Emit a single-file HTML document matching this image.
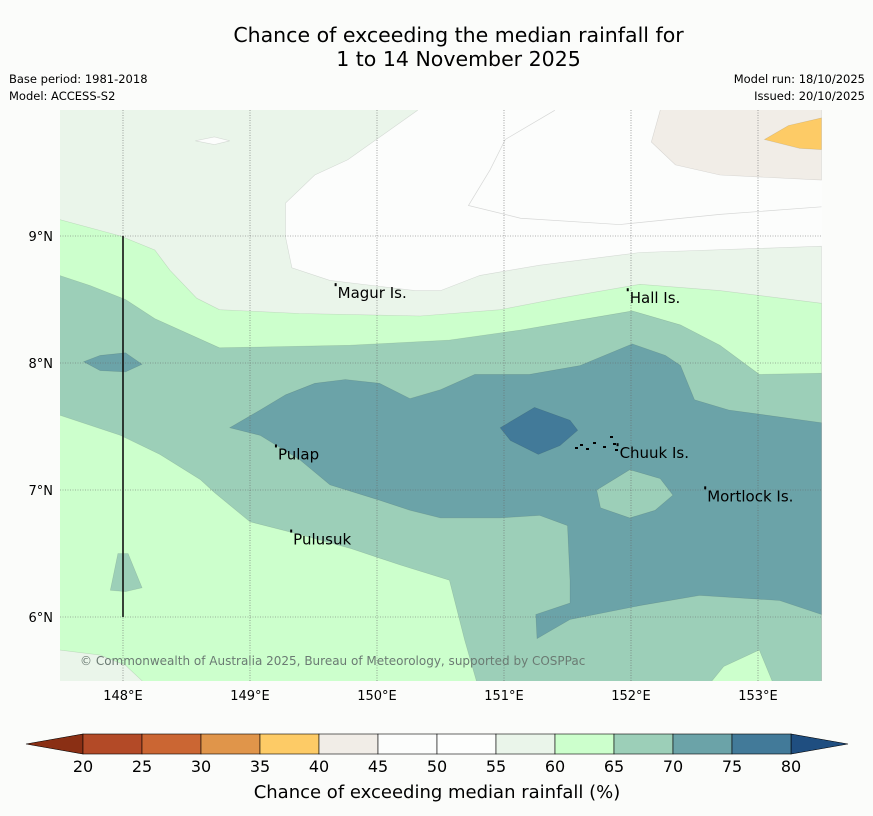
<!DOCTYPE html>
<html><head><meta charset="utf-8"><style>
body{margin:0;background:#fbfcfa;font-family:"DejaVu Sans","Liberation Sans",sans-serif;}
#wrap{position:relative;width:873px;height:816px;overflow:hidden;background:#fbfcfa;}
.t{position:absolute;white-space:nowrap;color:#000;}
</style></head><body>
<div id="wrap">
<div class="t" style="left:0;width:917px;top:23px;text-align:center;font-size:20.5px;line-height:24px;">Chance of exceeding the median rainfall for<br>1 to 14 November 2025</div>
<div class="t" style="left:9px;top:72px;font-size:11.5px;">Base period: 1981-2018</div>
<div class="t" style="left:9px;top:89px;font-size:11.5px;">Model: ACCESS-S2</div>
<div class="t" style="right:8px;top:72px;font-size:11.5px;text-align:right;">Model run: 18/10/2025</div>
<div class="t" style="right:8px;top:89px;font-size:11.5px;text-align:right;">Issued: 20/10/2025</div>
<svg id="svg" width="873" height="816" style="position:absolute;left:0;top:0">
<defs><clipPath id="mc"><rect x="60" y="110" width="762" height="571"/></clipPath></defs>
<rect x="60" y="110" width="762" height="571" fill="#fcfdfc"/>
<g id="fills" clip-path="url(#mc)"></g>
<g id="grid"></g>
<g id="labels"></g>
<g id="cbar"></g>
</svg>
</div>
<script>
const NS="http://www.w3.org/2000/svg";
const FONT="DejaVu Sans, Liberation Sans, sans-serif";
const lonMin=147.5, lonMax=153.5, latMin=5.5, latMax=9.99;
const lonTicks=[148,149,150,151,152,153];
const latTicks=[6,7,8,9];
const light55=[[147.5,10.1],[150.32,10.1],[150.32,9.99],[149.77,9.60],[149.51,9.48],[149.28,9.26],[149.28,8.99],[149.33,8.75],[149.63,8.65],[150.30,8.57],[150.50,8.57],[150.81,8.69],[151.28,8.77],[152.07,8.87],[153.5,8.92],[153.5,5.4],[147.5,5.4]];
const whiteBlob=[[148.57,9.75],[148.72,9.78],[148.84,9.75],[148.72,9.72]];
const green60=[[147.5,9.13],[147.98,9.0],[148.25,8.89],[148.37,8.73],[148.58,8.51],[148.76,8.42],[149.39,8.39],[150.34,8.37],[150.97,8.42],[151.44,8.51],[152.07,8.62],[152.70,8.57],[153.5,8.47],[153.5,5.4],[147.5,5.4]];
const teal65=[[147.5,8.69],[147.74,8.61],[148.02,8.50],[148.25,8.35],[148.76,8.12],[149.79,8.14],[150.57,8.18],[151.13,8.26],[151.60,8.34],[152.01,8.41],[152.39,8.30],[152.70,8.14],[153.01,7.91],[153.5,7.92],[153.5,5.4],[150.81,5.4],[150.69,5.82],[150.57,6.29],[150.18,6.41],[149.79,6.54],[149.39,6.65],[149.0,6.75],[148.72,6.98],[148.61,7.08],[148.29,7.28],[147.98,7.43],[147.5,7.59]];
const teal65Blob=[[147.96,6.50],[148.04,6.50],[148.15,6.23],[148.02,6.20],[147.90,6.21]];
const green60Patch=[[152.73,5.61],[153.01,5.74],[153.13,5.45],[152.6,5.45]];
const light55Band=[[147.5,5.74],[147.82,5.70],[148.02,5.62],[148.2,5.45],[147.5,5.45]];
const teal70=[[148.84,7.49],[149.08,7.63],[149.28,7.75],[149.51,7.84],[149.75,7.87],[150.02,7.84],[150.26,7.72],[150.50,7.79],[150.77,7.91],[151.20,7.91],[151.60,7.98],[152.01,8.15],[152.27,8.06],[152.39,7.98],[152.50,7.71],[152.77,7.63],[153.5,7.53],[153.5,6.02],[153.17,6.13],[152.54,6.17],[152.07,6.09],[151.52,5.98],[151.26,5.83],[151.25,6.02],[151.52,6.11],[151.52,6.29],[151.50,6.72],[151.28,6.80],[150.97,6.78],[150.50,6.78],[150.26,6.84],[150.02,6.92],[149.63,7.04],[149.39,7.24],[149.08,7.43]];
const teal70Blob=[[147.69,8.01],[147.82,8.06],[148.02,8.08],[148.15,7.99],[148.02,7.93],[147.82,7.94]];
const hole65=[[151.73,7.0],[151.99,7.16],[152.23,7.09],[152.33,6.96],[152.19,6.84],[151.99,6.78],[151.76,6.86]];
const blue75=[[150.97,7.49],[151.24,7.65],[151.52,7.55],[151.58,7.47],[151.44,7.35],[151.27,7.28],[151.05,7.39]];
const beige40=[[152.23,10.1],[152.23,9.99],[152.16,9.74],[152.35,9.56],[152.70,9.48],[153.5,9.44],[153.5,10.1]];
const orange35=[[153.05,9.76],[153.24,9.87],[153.5,9.93],[153.5,9.68],[153.33,9.69]];
const line50=[[151.40,9.99],[151.01,9.76],[150.89,9.52],[150.72,9.24],[151.13,9.14],[151.91,9.09],[152.70,9.17],[153.5,9.23]];
const placeNames=["Magur Is.","Hall Is.","Pulap","Chuuk Is.","Mortlock Is.","Pulusuk"];
const placeLon=[149.69,151.99,149.22,151.91,152.60,149.34];
const placeLat=[8.55,8.51,7.28,7.29,6.95,6.61];
const cbEdges=[20,25,30,35,40,45,50,55,60,65,70,75,80];
const cbColors=["#b34a27","#cb6633","#e0954a","#fdcb66","#f1ede7","#fcfdfc","#fdfefd","#eaf5ea","#ccffcc","#9ccfb8","#6ba3a8","#427a99"];
const cbLow="#8a2f14", cbHigh="#1f4e80";

const X=lon=>59.5+(lon-lonMin)*127;
const Y=lat=>236+(9-lat)*127;
function poly(parent,pts,fill,name,stroke){
  const p=document.createElementNS(NS,"polygon");
  p.setAttribute("points",pts.map(q=>X(q[0]).toFixed(1)+","+Y(q[1]).toFixed(1)).join(" "));
  p.setAttribute("fill",fill);
  p.setAttribute("stroke",stroke||"rgba(0,0,0,0.12)");
  p.setAttribute("stroke-width","0.6");
  
  
  parent.appendChild(p);return p;
}
const F=document.getElementById("fills");
poly(F,light55,"#eaf5ea","contour-55-60");
poly(F,whiteBlob,"#fcfdfc","contour-50-55-blob");
poly(F,green60,"#ccffcc","contour-60-65");
poly(F,teal65,"#9ccfb8","contour-65-70");
poly(F,teal65Blob,"#9ccfb8","contour-65-70-blob");
poly(F,green60Patch,"#ccffcc","contour-60-65-patch");
poly(F,light55Band,"#eaf5ea","contour-55-60-band");
poly(F,teal70,"#6ba3a8","contour-70-75");
poly(F,teal70Blob,"#6ba3a8","contour-70-75-blob");
poly(F,hole65,"#9ccfb8","contour-65-70-hole");
poly(F,blue75,"#427a99","contour-75-80");
poly(F,beige40,"#f1ede7","contour-40-45");
poly(F,orange35,"#fdcb66","contour-35-40");
const pl=document.createElementNS(NS,"polyline");
pl.setAttribute("points",line50.map(q=>X(q[0])+","+Y(q[1])).join(" "));
pl.setAttribute("fill","none");pl.setAttribute("stroke","rgba(0,0,0,0.15)");pl.setAttribute("stroke-width","0.7");


F.appendChild(pl);

const G=document.getElementById("grid");
function el(tag,attrs,parent){const e=document.createElementNS(NS,tag);for(const k in attrs)e.setAttribute(k,attrs[k]);parent.appendChild(e);return e;}
lonTicks.forEach(l=>{
  const ln=el("line",{x1:X(l),x2:X(l),y1:110,y2:681,stroke:"#666","stroke-width":0.6,"stroke-dasharray":"1,1.5"},G);
  
  
  const t=el("text",{x:X(l),y:700,"text-anchor":"middle","font-size":13,"font-family":FONT},G);
  t.textContent=l+"°E";
  
  
});
latTicks.forEach(l=>{
  const ln=el("line",{x1:60,x2:822,y1:Y(l),y2:Y(l),stroke:"#666","stroke-width":0.6,"stroke-dasharray":"1,1.5"},G);
  
  
  const t=el("text",{x:53,y:Y(l)+5,"text-anchor":"end","font-size":13,"font-family":FONT},G);
  t.textContent=l+"°N";
  
  
});
const bl=el("line",{x1:X(148),x2:X(148),y1:Y(9),y2:Y(6),stroke:"#111","stroke-width":1.6},G);



const L=document.getElementById("labels");
placeNames.forEach((n,i)=>{
  const m=el("rect",{x:X(placeLon[i])-3,y:Y(placeLat[i])-10,width:2,height:3,fill:"#000"},L);
  
  
  const t=el("text",{x:X(placeLon[i]),y:Y(placeLat[i])+5,"font-size":15,"font-family":FONT},L);
  t.textContent=n;
  
  
});
[[575,447],[580,444],[586,448],[593,442],[603,446],[610,436],[613,443],[615,449]].forEach(p=>{
  const c=el("rect",{x:p[0],y:p[1],width:3,height:2,fill:"#000"},L);
  
  
});
const cp=el("text",{x:80,y:665,"font-size":12,fill:"#6b7b73","font-family":FONT},L);
cp.textContent="© Commonwealth of Australia 2025, Bureau of Meteorology, supported by COSPPac";



const C=document.getElementById("cbar");
const cx0=83,cx1=791,cy=734,ch=20;
const CX=v=>cx0+(v-cbEdges[0])/(cbEdges[cbEdges.length-1]-cbEdges[0])*(cx1-cx0);
const la=el("polygon",{points:`${cx0},${cy} ${cx0},${cy+ch} 26,${cy+ch/2}`,fill:cbLow,stroke:"#000","stroke-width":0.6},C);


const ra=el("polygon",{points:`${cx1},${cy} ${cx1},${cy+ch} 848,${cy+ch/2}`,fill:cbHigh,stroke:"#000","stroke-width":0.6},C);


cbColors.forEach((c,i)=>{
  const r=el("rect",{x:CX(cbEdges[i]),y:cy,width:CX(cbEdges[i+1])-CX(cbEdges[i]),height:ch,fill:c,stroke:"#000","stroke-width":0.6},C);
  
  
});
cbEdges.forEach(v=>{
  const t=el("text",{x:CX(v),y:772,"text-anchor":"middle","font-size":16,"font-family":FONT},C);
  t.textContent=v;
  
  
});
const ct=el("text",{x:437,y:798,"text-anchor":"middle","font-size":18,"font-family":FONT},C);
ct.textContent="Chance of exceeding median rainfall (%)";


</script>
</body></html>
